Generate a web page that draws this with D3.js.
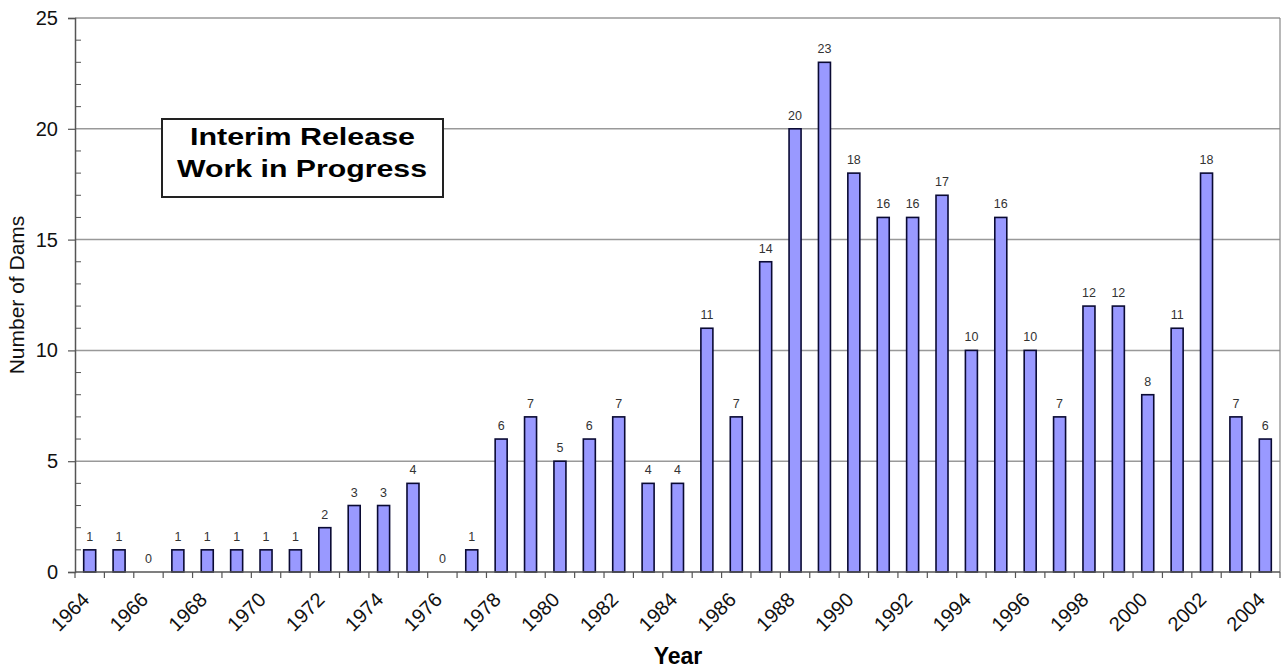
<!DOCTYPE html>
<html><head><meta charset="utf-8">
<script src="https://cdn.jsdelivr.net/npm/d3@7"></script>
<style>body{margin:0;background:#fff}svg{display:block}</style>
</head><body>
<svg id="c" width="1283" height="669"></svg>
<script>
const years = d3.range(1964, 2005).map(String);
const dams = [1,1,0,1,1,1,1,1,2,3,3,4,0,1,6,7,5,6,7,4,4,11,7,14,20,23,18,16,16,17,10,16,10,7,12,12,8,11,18,7,6];
const yTicks = [0,5,10,15,20,25];
const xTickLabels = years.filter((d,i)=>i%2===0);

const svg = d3.select("#c");
const L = 75, R = 1280, T = 18, B = 572;
const x = d3.scaleBand().domain(years).range([L, R]).paddingInner(0).paddingOuter(0);
const y = d3.scaleLinear().domain([0,25]).range([B, T]);
const font = "Arial, 'Liberation Sans', sans-serif";

// gridlines
svg.append("g").selectAll("line").data(yTicks.filter(d=>d>0)).join("line")
  .attr("x1", L).attr("x2", R).attr("y1", d=>y(d)).attr("y2", d=>y(d))
  .attr("stroke", "#999").attr("stroke-width", 1.5);
// right border
svg.append("line").attr("x1", R).attr("x2", R).attr("y1", T).attr("y2", B)
  .attr("stroke", "#888").attr("stroke-width", 1.2);

// minor ticks (inward)
svg.append("g").selectAll("line").data(d3.range(1,25).filter(d=>d%5!==0)).join("line")
  .attr("x1", L).attr("x2", L+6).attr("y1", d=>y(d)).attr("y2", d=>y(d))
  .attr("stroke", "#555").attr("stroke-width", 1);

// bars
const bw = 12;
const rows = dams.map((v,i)=>({v, yr: years[i]}));
svg.append("g").selectAll("rect").data(rows.filter(d=>d.v>0)).join("rect")
  .attr("x", d=>x(d.yr) + x.bandwidth()/2 - bw/2)
  .attr("width", bw)
  .attr("y", d=>y(d.v))
  .attr("height", d=>y(0)-y(d.v))
  .attr("fill", "#9999ff").attr("stroke", "#0a0a33").attr("stroke-width", 1.6);

// value labels
svg.append("g").selectAll("text").data(rows).join("text")
  .attr("x", d=>x(d.yr) + x.bandwidth()/2)
  .attr("y", d=>y(d.v) - 9)
  .attr("text-anchor", "middle")
  .attr("font-family", font).attr("font-size", 12.5).attr("fill", "#333")
  .text(d=>d.v);

// y axis
const yAxis = d3.axisLeft(y).tickValues(yTicks).tickSize(7).tickPadding(10);
const gy = svg.append("g").attr("transform", `translate(${L},0)`).call(yAxis);
gy.select(".domain").attr("stroke", "#555").attr("stroke-width", 1.5);
gy.selectAll(".tick line").attr("stroke", "#555").attr("stroke-width", 1.2);
gy.selectAll("text").attr("font-family", font).attr("font-size", 20).attr("fill", "#111");

// x axis
const gx = svg.append("g").attr("transform", `translate(0,${B})`);
gx.append("line").attr("x1", L).attr("x2", R).attr("y1", 0).attr("y2", 0).attr("stroke", "#555").attr("stroke-width", 1.5);
gx.selectAll("line.tk").data(years.concat(["end"])).join("line").attr("class","tk")
  .attr("x1", (d,i)=>L + i*x.bandwidth()).attr("x2", (d,i)=>L + i*x.bandwidth())
  .attr("y1", 0).attr("y2", 6).attr("stroke", "#555").attr("stroke-width", 1.2);
gx.selectAll("text").data(xTickLabels).join("text")
  .attr("transform", d=>`translate(${x(d)+x.bandwidth()/2+1},${29}) rotate(-45)`)
  .attr("text-anchor", "end")
  .attr("font-family", font).attr("font-size", 20).attr("fill", "#111")
  .text(d=>d);

// axis titles
svg.append("text").attr("x", 678).attr("y", 664).attr("text-anchor", "middle")
  .attr("font-family", font).attr("font-weight", "bold").attr("font-size", 23).text("Year");
svg.append("text").attr("transform", "translate(24,295) rotate(-90)").attr("text-anchor", "middle")
  .attr("font-family", font).attr("font-size", 21).attr("fill", "#111").text("Number of Dams");

// annotation box
const box = svg.append("g");
box.append("rect").attr("x", 162).attr("y", 119).attr("width", 281).attr("height", 78)
  .attr("fill", "#fff").attr("stroke", "#222").attr("stroke-width", 2);
box.append("text").attr("x", 302.5).attr("y", 145).attr("text-anchor", "middle")
  .attr("font-family", font).attr("font-weight", "bold").attr("font-size", 24)
  .attr("textLength", 225).attr("lengthAdjust", "spacingAndGlyphs").text("Interim Release");
box.append("text").attr("x", 302).attr("y", 177).attr("text-anchor", "middle")
  .attr("font-family", font).attr("font-weight", "bold").attr("font-size", 24)
  .attr("textLength", 250).attr("lengthAdjust", "spacingAndGlyphs").text("Work in Progress");
</script>
</body></html>
